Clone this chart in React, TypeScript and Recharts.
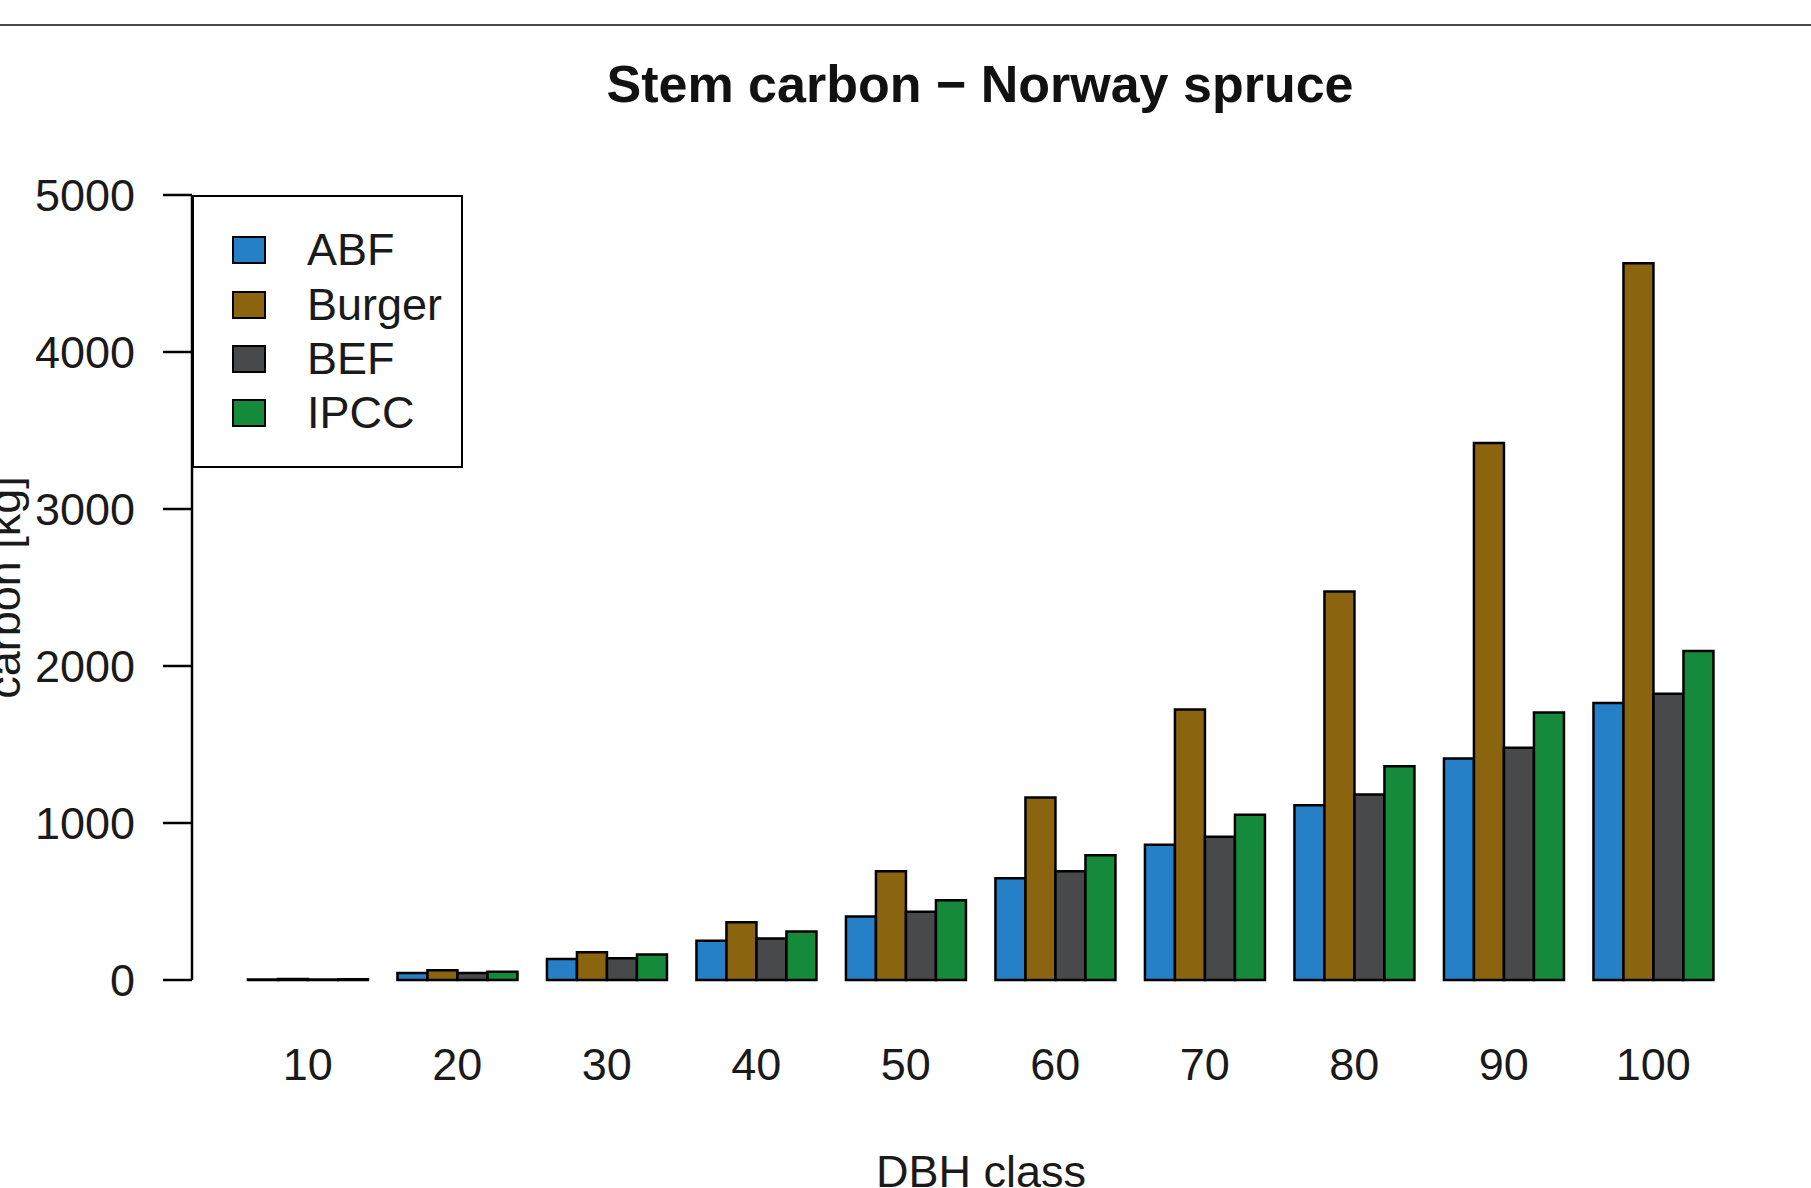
import { BarChart, Bar, XAxis, YAxis, Legend, Label } from "recharts";

const FONT = '"Liberation Sans", Arial, Helvetica, sans-serif';

const DBH_CLASSES = ["10", "20", "30", "40", "50", "60", "70", "80", "90", "100"];
const ABF = [3, 45, 133, 250, 405, 648, 862, 1113, 1411, 1764];
const BURGER = [6, 62, 177, 368, 692, 1163, 1723, 2474, 3420, 4566];
const BEF = [3, 45, 138, 265, 434, 692, 913, 1182, 1479, 1824];
const IPCC = [4, 52, 162, 309, 508, 795, 1053, 1361, 1704, 2096];
const Y_TICKS = [0, 1000, 2000, 3000, 4000, 5000];

const SERIES_NAMES = ["ABF", "Burger", "BEF", "IPCC"];
const COLORS: Record<string, string> = {
  ABF: "#2680c8",
  Burger: "#8b6410",
  BEF: "#48494b",
  IPCC: "#168a3b",
};

const chartData = DBH_CLASSES.map((dbh, i) => ({
  dbh,
  ABF: ABF[i],
  Burger: BURGER[i],
  BEF: BEF[i],
  IPCC: IPCC[i],
}));

// legend box drawn like R's legend("topleft")
function renderLegend() {
  const rowCenters = [55, 110, 164, 218];
  return (
    <div
      style={{
        position: "relative",
        width: 271,
        height: 273,
        boxSizing: "border-box",
        border: "2.5px solid #000",
        background: "#fff",
        fontFamily: FONT,
      }}
    >
      {SERIES_NAMES.map((name, i) => (
        <div
          key={name}
          style={{
            position: "absolute",
            left: 38,
            top: rowCenters[i] - 2.5 - 26,
            height: 52,
            display: "flex",
            alignItems: "center",
          }}
        >
          <div
            style={{
              width: 34,
              height: 28,
              boxSizing: "border-box",
              border: "2px solid #000",
              background: COLORS[name],
            }}
          />
          <span style={{ marginLeft: 41, fontSize: 45, color: "#1a1a1a" }}>
            {name}
          </span>
        </div>
      ))}
    </div>
  );
}

function YTitle({ viewBox }: any) {
  const cx = 20;
  const cy = viewBox.y + viewBox.height / 2;
  return (
    <text
      x={cx}
      y={cy}
      transform={`rotate(-90, ${cx}, ${cy})`}
      textAnchor="middle"
      fontSize={45}
      fontFamily={FONT}
      fill="#1a1a1a"
    >
      carbon [kg]
    </text>
  );
}

function XTitle({ viewBox }: any) {
  return (
    <text
      x={viewBox.x + viewBox.width / 2}
      y={viewBox.y + viewBox.height - 1}
      textAnchor="middle"
      fontSize={45}
      fontFamily={FONT}
      fill="#1a1a1a"
    >
      DBH class
    </text>
  );
}

export default function App() {
  return (
    <div
      style={{
        position: "absolute",
        left: 0,
        top: 0,
        width: 1811,
        height: 1188,
        background: "#fff",
        overflow: "hidden",
      }}
    >
      <BarChart
        width={1811}
        height={1188}
        data={chartData}
        margin={{ top: 195, right: 41, bottom: 0, left: 0 }}
        barCategoryGap="10%"
        barGap={0}
      >
        <XAxis
          dataKey="dbh"
          axisLine={false}
          tickLine={false}
          tickSize={0}
          tickMargin={68}
          height={208}
          interval={0}
          padding={{ left: 41, right: 42 }}
          tick={{ fill: "#1a1a1a", fontSize: 45, fontFamily: FONT }}
        >
          <Label content={XTitle} />
        </XAxis>
        <YAxis
          width={192}
          domain={[0, 5000]}
          ticks={Y_TICKS}
          interval={0}
          tickSize={29}
          tickMargin={28}
          axisLine={{ stroke: "#000", strokeWidth: 2.5 }}
          tickLine={{ stroke: "#000", strokeWidth: 2.5 }}
          tick={{ fill: "#1a1a1a", fontSize: 45, fontFamily: FONT }}
        >
          <Label content={YTitle} />
        </YAxis>
        <Legend
          layout="vertical"
          align="center"
          verticalAlign="middle"
          wrapperStyle={{ left: 192, top: 195, width: 271, height: 273 }}
          content={renderLegend}
        />
        {SERIES_NAMES.map((name) => (
          <Bar
            key={name}
            dataKey={name}
            name={name}
            fill={COLORS[name]}
            stroke="#000"
            strokeWidth={2.5}
            isAnimationActive={false}
          />
        ))}
      </BarChart>
      <svg
        width={1811}
        height={1188}
        style={{ position: "absolute", left: 0, top: 0, pointerEvents: "none" }}
      >
        <line x1={0} x2={1811} y1={25} y2={25} stroke="#4a4a4a" strokeWidth={2} />
        <text
          x={980}
          y={102}
          textAnchor="middle"
          fontSize={52}
          fontWeight="bold"
          fontFamily={FONT}
          fill="#111"
        >
          Stem carbon − Norway spruce
        </text>
      </svg>
    </div>
  );
}
